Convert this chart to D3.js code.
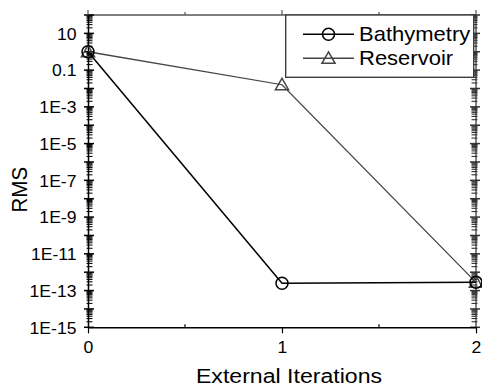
<!DOCTYPE html>
<html>
<head>
<meta charset="utf-8">
<script src="https://cdn.jsdelivr.net/npm/d3@7"></script>
<style>
  html, body { margin: 0; padding: 0; background: #fff; }
  svg { display: block; }
  text { font-family: "Liberation Sans", Arial, Helvetica, sans-serif; fill: #000; }
</style>
</head>
<body>
<svg id="chart" width="482" height="389"></svg>
<script>
// Convergence of the RMS misfit over external iterations
const iterations = [0, 1, 2];
const bathymetry = [1.0, 2.5e-13, 2.8e-13];
const reservoir  = [1.0, 0.016, 2.8e-13];

const xTickValues = [0, 1, 2];
const xMinorValues = [0.5, 1.5];
const yTickValues = [1e1, 1e-1, 1e-3, 1e-5, 1e-7, 1e-9, 1e-11, 1e-13, 1e-15];
const yTickLabels = ["10", "0.1", "1E-3", "1E-5", "1E-7", "1E-9", "1E-11", "1E-13", "1E-15"];
const seriesNames = ["Bathymetry", "Reservoir"];

const svg = d3.select("#chart");
const plotL = 88, plotR = 476, plotT = 15, plotB = 327.3;
const stretch = 1.1; // glyphs are drawn slightly wide

const x = d3.scaleLinear().domain([0, 2]).range([plotL, plotR]);
const y = d3.scaleLog().domain([1e-15, 1e2]).range([plotB, plotT]);

// decade and sub-decade positions for the log axis
const decades = d3.range(-15, 3).map(e => Math.pow(10, e));
const minors = [];
decades.slice(0, -1).forEach(d => { for (let k = 2; k <= 9; k++) minors.push(d * k); });

const frameColor = "#555";

// frame: top and right edges
svg.append("line").attr("x1", plotL).attr("x2", plotR).attr("y1", plotT).attr("y2", plotT)
  .attr("stroke", frameColor).attr("stroke-width", 1.5);
svg.append("line").attr("x1", plotR).attr("x2", plotR).attr("y1", plotT).attr("y2", plotB)
  .attr("stroke", frameColor).attr("stroke-width", 1.5);

// left axis ticks
const gL = svg.append("g");
gL.selectAll("line.min").data(minors).join("line").attr("class", "min")
  .attr("x1", plotL - 1.5).attr("x2", plotL + 4.5)
  .attr("y1", d => y(d)).attr("y2", d => y(d))
  .attr("stroke", "#111").attr("stroke-width", 1.1);
gL.selectAll("line.maj").data(decades).join("line").attr("class", "maj")
  .attr("x1", plotL - 4).attr("x2", plotL + 6)
  .attr("y1", d => y(d)).attr("y2", d => y(d))
  .attr("stroke", "#000").attr("stroke-width", 1.5);

// right axis ticks
const gR = svg.append("g");
gR.selectAll("line.min").data(minors).join("line").attr("class", "min")
  .attr("x1", plotR + 1.5).attr("x2", plotR - 4.5)
  .attr("y1", d => y(d)).attr("y2", d => y(d))
  .attr("stroke", "#333").attr("stroke-width", 1.1);
gR.selectAll("line.maj").data(decades).join("line").attr("class", "maj")
  .attr("x1", plotR + 4).attr("x2", plotR - 6)
  .attr("y1", d => y(d)).attr("y2", d => y(d))
  .attr("stroke", "#333").attr("stroke-width", 1.5);

// top axis ticks
svg.append("g").selectAll("line").data(xTickValues).join("line")
  .attr("x1", d => x(d)).attr("x2", d => x(d)).attr("y1", plotT).attr("y2", plotT - 5)
  .attr("stroke", frameColor).attr("stroke-width", 1.2);
svg.append("g").selectAll("line").data(xMinorValues).join("line")
  .attr("x1", d => x(d)).attr("x2", d => x(d)).attr("y1", plotT).attr("y2", plotT - 3)
  .attr("stroke", frameColor).attr("stroke-width", 1.2);

// left axis with labels
const yAxis = d3.axisLeft(y).tickValues(yTickValues)
  .tickFormat((d, i) => yTickLabels[i]).tickSize(0).tickPadding(0);
const gy = svg.append("g").attr("transform", `translate(${plotL},0)`).call(yAxis);
gy.select(".domain").attr("stroke", "#000").attr("stroke-width", 1.5);
gy.selectAll(".tick text")
  .attr("x", 0).attr("dy", "0.36em")
  .attr("transform", `translate(-11.5,0) scale(${stretch},1)`)
  .style("font-size", "16px").style("font-family", "Liberation Sans, Arial, sans-serif")
  .attr("fill", "#000");

// bottom axis with labels
const xAxis = d3.axisBottom(x).tickValues(xTickValues).tickFormat(d3.format("d"))
  .tickSize(0).tickPadding(0);
const gx = svg.append("g").attr("transform", `translate(0,${plotB})`).call(xAxis);
gx.select(".domain").attr("stroke", "#000").attr("stroke-width", 1.5);
gx.selectAll(".tick text")
  .attr("y", 0).attr("dy", 0)
  .attr("transform", `translate(0,25.5) scale(${stretch},1)`)
  .style("font-size", "16px").style("font-family", "Liberation Sans, Arial, sans-serif")
  .attr("fill", "#000");
gx.selectAll(".tick").append("line")
  .attr("y1", 0).attr("y2", 6).attr("stroke", "#000").attr("stroke-width", 1.2);
svg.append("g").selectAll("line").data(xMinorValues).join("line")
  .attr("x1", d => x(d)).attr("x2", d => x(d)).attr("y1", plotB).attr("y2", plotB - 3)
  .attr("stroke", "#000").attr("stroke-width", 1.2);

// axis titles
svg.append("text")
  .attr("transform", `translate(289,383) scale(${stretch},1)`)
  .attr("text-anchor", "middle").style("font-size", "21px")
  .text("External Iterations");
svg.append("text")
  .attr("transform", `translate(26.5,189.7) scale(${stretch},1) rotate(-90)`)
  .attr("text-anchor", "middle").style("font-size", "20.5px")
  .text("RMS");

// series
const series = [
  { name: seriesNames[1], values: reservoir, color: "#444", width: 1.3, marker: "triangle" },
  { name: seriesNames[0], values: bathymetry, color: "#000", width: 1.5, marker: "circle" }
];
const line = d3.line().x(d => x(d[0])).y(d => y(d[1]));
const triSym = d3.symbol().type(d3.symbolTriangle).size(75);

function drawMarker(g, kind, cx, cy, color) {
  if (kind === "circle") {
    g.append("circle").attr("cx", cx).attr("cy", cy).attr("r", 6)
      .attr("fill", "none").attr("stroke", color).attr("stroke-width", 1.5);
  } else {
    g.append("path").attr("d", triSym())
      .attr("transform", `translate(${cx},${cy + 1.2})`)
      .attr("fill", "none").attr("stroke", color).attr("stroke-width", 1.5);
  }
}

series.forEach(s => {
  const pts = iterations.map((it, i) => [it, s.values[i]]);
  svg.append("path").datum(pts).attr("d", line)
    .attr("fill", "none").attr("stroke", s.color).attr("stroke-width", s.width);
  const g = svg.append("g");
  pts.forEach(p => drawMarker(g, s.marker, x(p[0]), y(p[1]), s.color));
});

// legend
const legend = svg.append("g");
legend.append("rect").attr("x", 285.7).attr("y", 15).attr("width", 188).attr("height", 62.3)
  .attr("fill", "#fff").attr("stroke", "#333").attr("stroke-width", 1.3);
const legendRows = [
  { name: seriesNames[0], color: "#000", marker: "circle", y: 34.3 },
  { name: seriesNames[1], color: "#444", marker: "triangle", y: 58.3 }
];
legendRows.forEach(r => {
  legend.append("line").attr("x1", 303).attr("x2", 354).attr("y1", r.y).attr("y2", r.y)
    .attr("stroke", r.color).attr("stroke-width", 1.4);
  drawMarker(legend, r.marker, 328.5, r.y, r.color);
  legend.append("text")
    .attr("transform", `translate(359,${r.y + 7}) scale(${stretch},1)`)
    .style("font-size", "20px")
    .text(r.name);
});
</script>
</body>
</html>
